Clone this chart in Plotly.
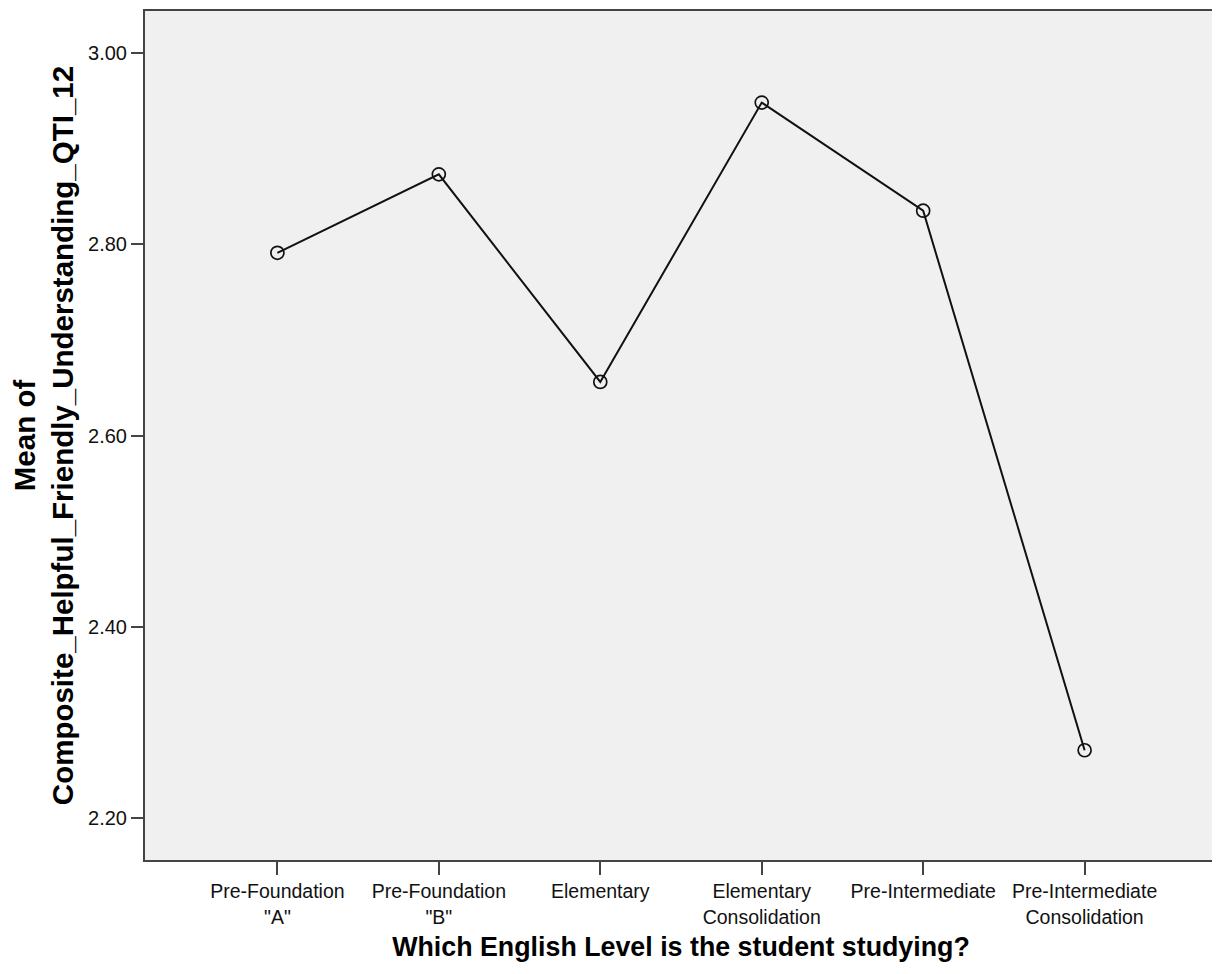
import plotly.graph_objects as go

categories = ['Pre-Foundation<br>"A"', 'Pre-Foundation<br>"B"', 'Elementary',
              'Elementary<br>Consolidation', 'Pre-Intermediate',
              'Pre-Intermediate<br>Consolidation']
means = [2.791, 2.873, 2.656, 2.948, 2.835, 2.271]
y_ticks = [2.20, 2.40, 2.60, 2.80, 3.00]
y_tick_labels = ["2.20", "2.40", "2.60", "2.80", "3.00"]

fig = go.Figure()
fig.add_trace(go.Scatter(
    x=categories, y=means, mode="lines+markers",
    line=dict(color="#111111", width=2),
    marker=dict(symbol="circle-open", size=13, color="#111111", line=dict(width=1.7)),
    showlegend=False,
))

fig.update_layout(
    width=1212, height=966,
    margin=dict(l=137, r=2, t=1, b=114),
    paper_bgcolor="white", plot_bgcolor="#F0F0F0",
    font=dict(family="Liberation Sans, Arial, sans-serif", color="#000"),
)
fig.update_xaxes(
    type="category", range=[-0.82, 5.82],
    showline=True, mirror=True, linecolor="#444", linewidth=2,
    ticks="outside", ticklen=13, tickwidth=2, tickcolor="#444",
    showgrid=False, zeroline=False,
    tickfont=dict(size=19.5, color="#111"),
    title=dict(text="<b>Which English Level is the student studying?</b>",
               font=dict(size=26.8, family="Liberation Sans, Arial, sans-serif"), standoff=10),
)
fig.update_yaxes(
    range=[2.15625, 3.04375],
    tickvals=y_ticks, ticktext=y_tick_labels,
    showline=True, mirror=True, linecolor="#444", linewidth=2,
    ticks="outside", ticklen=12, tickwidth=2, tickcolor="#444",
    showgrid=False, zeroline=False,
    tickfont=dict(size=20, color="#111"),
    title=dict(text="<b>Mean of<br>Composite_Helpful_Friendly_Understanding_QTI_12</b>",
               font=dict(size=29.5, family="Liberation Sans, Arial, sans-serif"), standoff=12),
)

fig.write_html("out.html")
